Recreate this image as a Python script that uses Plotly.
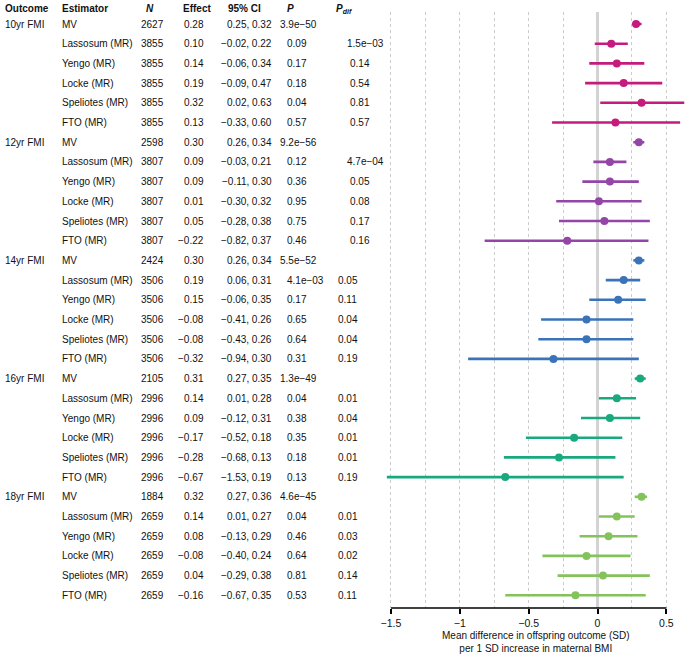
import plotly.graph_objects as go

outcomes = ["10yr FMI", "12yr FMI", "14yr FMI", "16yr FMI", "18yr FMI"]
estimators = ["MV", "Lassosum (MR)", "Yengo (MR)", "Locke (MR)", "Speliotes (MR)", "FTO (MR)"]
colors = ["#C51B7D", "#9346A6", "#3B73B9", "#19A97E", "#84C35B"]

n_10 = [2627, 3855, 3855, 3855, 3855, 3855]
eff_10 = [0.28, 0.10, 0.14, 0.19, 0.32, 0.13]
lo_10 = [0.25, -0.02, -0.06, -0.09, 0.02, -0.33]
hi_10 = [0.32, 0.22, 0.34, 0.47, 0.63, 0.60]
p_10 = ["3.9e−50", "0.09", "0.17", "0.18", "0.04", "0.57"]
pdif_10 = ["", "1.5e−03", "0.14", "0.54", "0.81", "0.57"]

n_12 = [2598, 3807, 3807, 3807, 3807, 3807]
eff_12 = [0.30, 0.09, 0.09, 0.01, 0.05, -0.22]
lo_12 = [0.26, -0.03, -0.11, -0.30, -0.28, -0.82]
hi_12 = [0.34, 0.21, 0.30, 0.32, 0.38, 0.37]
p_12 = ["9.2e−56", "0.12", "0.36", "0.95", "0.75", "0.46"]
pdif_12 = ["", "4.7e−04", "0.05", "0.08", "0.17", "0.16"]

n_14 = [2424, 3506, 3506, 3506, 3506, 3506]
eff_14 = [0.30, 0.19, 0.15, -0.08, -0.08, -0.32]
lo_14 = [0.26, 0.06, -0.06, -0.41, -0.43, -0.94]
hi_14 = [0.34, 0.31, 0.35, 0.26, 0.26, 0.30]
p_14 = ["5.5e−52", "4.1e−03", "0.17", "0.65", "0.64", "0.31"]
pdif_14 = ["", "0.05", "0.11", "0.04", "0.04", "0.19"]

n_16 = [2105, 2996, 2996, 2996, 2996, 2996]
eff_16 = [0.31, 0.14, 0.09, -0.17, -0.28, -0.67]
lo_16 = [0.27, 0.01, -0.12, -0.52, -0.68, -1.53]
hi_16 = [0.35, 0.28, 0.31, 0.18, 0.13, 0.19]
p_16 = ["1.3e−49", "0.04", "0.38", "0.35", "0.18", "0.13"]
pdif_16 = ["", "0.01", "0.04", "0.01", "0.01", "0.19"]

n_18 = [1884, 2659, 2659, 2659, 2659, 2659]
eff_18 = [0.32, 0.14, 0.08, -0.08, 0.04, -0.16]
lo_18 = [0.27, 0.01, -0.13, -0.40, -0.29, -0.67]
hi_18 = [0.36, 0.27, 0.29, 0.24, 0.38, 0.35]
p_18 = ["4.6e−45", "0.04", "0.46", "0.64", "0.81", "0.53"]
pdif_18 = ["", "0.01", "0.03", "0.02", "0.14", "0.11"]

x_ticks = [-1.5, -1, -0.5, 0, 0.5]
x_ticktext = ["−1.5", "−1", "−0.5", "0", "0.5"]
x_title = "Mean difference in offspring outcome (SD)<br>per 1 SD increase in maternal BMI"

groups = [
    (n_10, eff_10, lo_10, hi_10, p_10, pdif_10),
    (n_12, eff_12, lo_12, hi_12, p_12, pdif_12),
    (n_14, eff_14, lo_14, hi_14, p_14, pdif_14),
    (n_16, eff_16, lo_16, hi_16, p_16, pdif_16),
    (n_18, eff_18, lo_18, hi_18, p_18, pdif_18),
]

W, H = 685, 656
TOP, BOT = 12, 608
ROW0, STEP = 24, 19.7
ymin_row = (TOP - ROW0) / STEP
ymax_row = (BOT - ROW0) / STEP
PLOT_LEFT = 383
SCALE = 138.5
ZERO_PX = 597
xr = [(PLOT_LEFT - ZERO_PX) / SCALE, (W - ZERO_PX) / SCALE]

FONT = "Liberation Sans, Arial, sans-serif"
TXT = "#111111"
FS = 10


def fmt(v):
    s = f"{abs(v):.2f}"
    return ("−" + s) if v < 0 else s


fig = go.Figure()
ann = []


def px(x):
    return x / W


for g, (ns, effs, los, his, ps, pdifs) in enumerate(groups):
    rows = [g * 6 + j for j in range(6)]
    fig.add_trace(go.Scatter(
        x=effs, y=rows, mode="markers",
        marker=dict(color=colors[g], size=8),
        error_x=dict(type="data", symmetric=False,
                     array=[h - e for h, e in zip(his, effs)],
                     arrayminus=[e - l for e, l in zip(effs, los)],
                     color=colors[g], thickness=2.6, width=0),
        showlegend=False, hoverinfo="skip", cliponaxis=False,
    ))
    ann.append(dict(x=px(0), y=rows[0], text=outcomes[g], xanchor="left"))
    pdif_x = 347 if g < 2 else 335
    for j, r in enumerate(rows):
        ann.append(dict(x=px(57), y=r, text=estimators[j], xanchor="left"))
        ann.append(dict(x=px(137), y=r, text=str(ns[j]), xanchor="left"))
        ann.append(dict(x=px(202), y=r, text=fmt(effs[j]), xanchor="right"))
        ann.append(dict(x=px(271), y=r, text=fmt(los[j]) + ", " + fmt(his[j]), xanchor="right"))
        ann.append(dict(x=px(277 if j == 0 else 284), y=r, text=ps[j], xanchor="left"))
        if pdifs[j]:
            ann.append(dict(x=px(pdif_x if not ("e" in pdifs[j]) else pdif_x - 3), y=r,
                            text=pdifs[j], xanchor="left"))

annotations = []
for a in ann:
    a.update(xref="paper", yref="y", yanchor="middle", showarrow=False,
             borderpad=0, font=dict(family=FONT, size=FS, color=TXT))
    annotations.append(a)

hy = (BOT - 9) / (BOT - TOP)
headers = [(0, "<b>Outcome</b>"), (57, "<b>Estimator</b>"), (142, "<b><i>N</i></b>"),
           (179, "<b>Effect</b>"), (224, "<b>95% CI</b>"), (284, "<b><i>P</i></b>"),
           (333, "<b><i>P</i></b><sub><b><i>dif</i></b></sub>")]
for xpx, t in headers:
    annotations.append(dict(x=px(xpx), y=hy, xref="paper", yref="paper", text=t,
                            xanchor="left", yanchor="middle", showarrow=False, borderpad=0,
                            font=dict(family=FONT, size=FS, color=TXT)))

annotations.append(dict(x=(535) / W, y=-(642 - BOT) / (BOT - TOP), xref="paper", yref="paper",
                        text=x_title, xanchor="center", yanchor="middle", showarrow=False,
                        font=dict(family=FONT, size=FS, color=TXT), align="center"))

shapes = [dict(type="line", xref="x", yref="paper", x0=x_ticks[0], x1=x_ticks[-1], y0=0, y1=0,
               line=dict(color="black", width=1.5))]

fig.update_layout(
    width=W, height=H,
    margin=dict(l=0, r=0, t=TOP, b=H - BOT),
    paper_bgcolor="white", plot_bgcolor="white",
    annotations=annotations, shapes=shapes,
    xaxis=dict(domain=[PLOT_LEFT / W, 1], range=xr, tickvals=x_ticks, ticktext=x_ticktext,
               ticks="outside", ticklen=5, tickwidth=1.5, tickcolor="black",
               tickfont=dict(family=FONT, size=10.5, color=TXT),
               showline=False, showgrid=True, gridcolor="#CCCCCC", griddash="dot", gridwidth=1,
               minor=dict(dtick=0.25, tick0=0, showgrid=True, gridcolor="#CCCCCC",
                          griddash="dot", gridwidth=1),
               zeroline=True, zerolinecolor="#D3D3D3", zerolinewidth=2.5),
    yaxis=dict(range=[ymax_row, ymin_row], showgrid=False, zeroline=False,
               showticklabels=False, ticks="", showline=False),
)

fig.write_html("out.html", config={"displayModeBar": False},
               post_script="document.body.style.margin='0px';document.body.style.overflow='hidden';")
